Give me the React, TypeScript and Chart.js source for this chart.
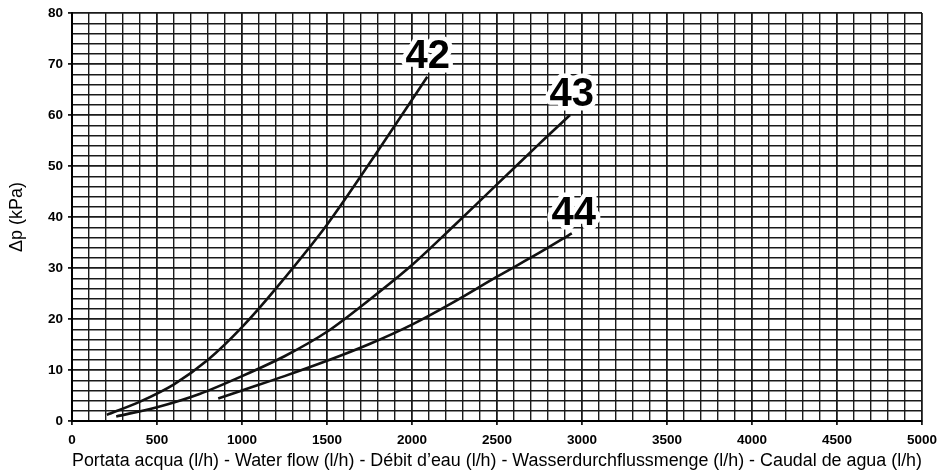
import React, { useEffect, useRef } from "react";
import { Chart, registerables } from "chart.js";

Chart.register(...registerables);

// Curve 42
const flow42 = [205, 400, 600, 800, 1000, 1200, 1500, 1800, 2090];
const dp42 = [1.2, 3.8, 7.2, 12.0, 18.4, 26, 38.5, 53, 67.5];
// Curve 43
const flow43 = [260, 500, 750, 1000, 1250, 1500, 1750, 2000, 2250, 2500, 2750, 2930];
const dp43 = [0.9, 2.7, 5.3, 8.8, 12.7, 17.5, 23.8, 30.6, 38.4, 46.4, 54.4, 60];
// Curve 44
const flow44 = [860, 1000, 1250, 1500, 1750, 2000, 2250, 2500, 2750, 2940];
const dp44 = [4.4, 6.0, 8.8, 11.8, 15.1, 18.9, 23.4, 28.3, 33.0, 36.8];

const curveNames = ["42", "43", "44"];
const labelFlow = [2093, 2940, 2952];
const labelDp = [71.3, 64.0, 40.6];

const xTitle =
  "Portata acqua (l/h) - Water flow (l/h) - Débit d’eau (l/h) - Wasserdurchflussmenge (l/h) - Caudal de agua (l/h)";
const yTitle = "Δp (kPa)";

const toPts = (xs: number[], ys: number[]) => xs.map((x, i) => ({ x, y: ys[i] }));

const labelPlugin = {
  id: "curveLabels",
  afterDatasetsDraw(chart: any) {
    const { ctx, scales } = chart;
    ctx.save();
    ctx.font = "bold 40px 'Liberation Sans', Arial, sans-serif";
    ctx.textAlign = "center";
    ctx.textBaseline = "middle";
    curveNames.forEach((name, i) => {
      const px = scales.x.getPixelForValue(labelFlow[i]);
      const py = scales.y.getPixelForValue(labelDp[i]);
      ctx.lineJoin = "round";
      ctx.strokeStyle = "#ffffff";
      ctx.lineWidth = 9;
      ctx.strokeText(name, px, py);
      ctx.fillStyle = "#000000";
      ctx.fillText(name, px, py);
    });
    ctx.restore();
  },
};

export default function App() {
  const ref = useRef<HTMLCanvasElement>(null);
  useEffect(() => {
    if (!ref.current) return;
    const lineDs = (data: any) => ({
      data,
      borderColor: "#111",
      borderWidth: 2.6,
      pointRadius: 0,
      fill: false,
      tension: 0.3,
    });
    const chart = new Chart(ref.current, {
      type: "line",
      data: {
        datasets: [
          lineDs(toPts(flow42, dp42)),
          lineDs(toPts(flow43, dp43)),
          lineDs(toPts(flow44, dp44)),
        ],
      },
      options: {
        animation: false,
        responsive: false,
        maintainAspectRatio: false,
        layout: { padding: { top: 13, right: 23, left: 0, bottom: 0 } },
        plugins: { legend: { display: false }, tooltip: { enabled: false } },
        scales: {
          x: {
            type: "linear",
            min: 0,
            max: 5000,
            afterFit: (s: any) => {
              s.height = 52;
            },
            ticks: {
              stepSize: 100,
              autoSkip: false,
              maxRotation: 0,
              padding: 7,
              color: "#000",
              font: { family: "'Liberation Sans', Arial, sans-serif", size: 13.5, weight: "bold" },
              callback: (v: any) => (Number(v) % 500 === 0 ? String(v) : ""),
            },
            grid: {
              color: "#1a1a1a",
              lineWidth: (c: any) => (c.tick && c.tick.value % 500 === 0 ? 1.8 : 1.4),
              tickLength: 4,
              tickColor: (c: any) => (c.tick && c.tick.value % 500 === 0 ? "#1a1a1a" : "rgba(0,0,0,0)"),
            },
            border: { color: "#000", width: 2 },
            title: {
              display: true,
              text: xTitle,
              color: "#000",
              font: { family: "'Liberation Sans', Arial, sans-serif", size: 18 },
              padding: { top: 0, bottom: 1 },
            },
          },
          y: {
            type: "linear",
            min: 0,
            max: 80,
            afterFit: (s: any) => {
              s.width = 72;
            },
            ticks: {
              stepSize: 2,
              autoSkip: false,
              padding: 5,
              color: "#000",
              font: { family: "'Liberation Sans', Arial, sans-serif", size: 13.5, weight: "bold" },
              callback: (v: any) => (Number(v) % 10 === 0 ? String(v) : ""),
            },
            grid: {
              color: "#1a1a1a",
              lineWidth: (c: any) => (c.tick && c.tick.value % 10 === 0 ? 1.8 : 1.4),
              tickLength: 4,
              tickColor: (c: any) => (c.tick && c.tick.value % 10 === 0 ? "#1a1a1a" : "rgba(0,0,0,0)"),
            },
            border: { color: "#000", width: 2 },
            title: {
              display: true,
              text: yTitle,
              color: "#000",
              font: { family: "'Liberation Sans', Arial, sans-serif", size: 18 },
              padding: { top: 6, bottom: 0 },
            },
          },
        },
      },
      plugins: [labelPlugin],
    });
    return () => chart.destroy();
  }, []);
  return (
    <div style={{ position: "fixed", left: 0, top: 0, width: 945, height: 473, background: "#fff" }}>
      <canvas ref={ref} width={945} height={473} style={{ display: "block" }} />
    </div>
  );
}
